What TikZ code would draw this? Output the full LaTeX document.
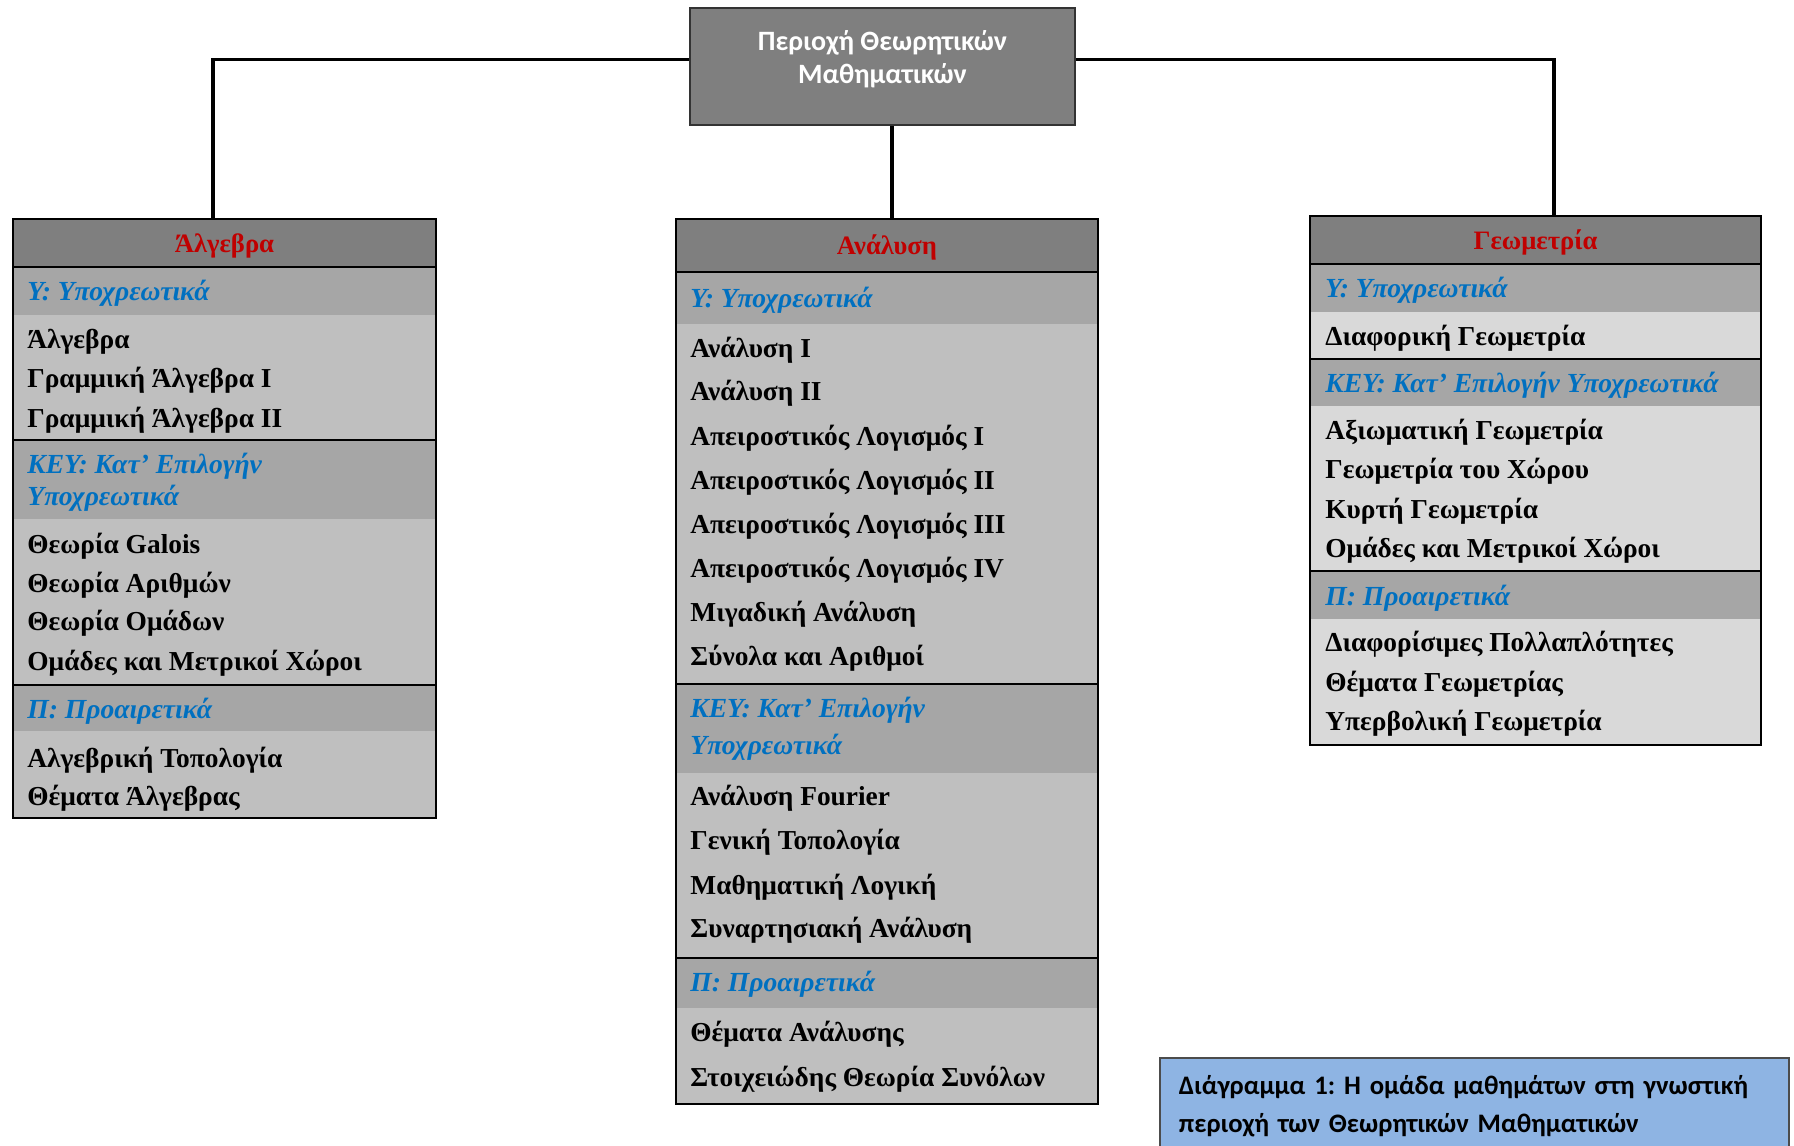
\documentclass[tikz,border=0pt]{standalone}
\usepackage{fontspec}
\setmainfont{Liberation Serif}
\newfontfamily\calibri{Carlito}
\usetikzlibrary{positioning, calc}
\frenchspacing

\definecolor{hdrgray}{HTML}{7F7F7F}
\definecolor{secgray}{HTML}{A6A6A6}
\definecolor{itemgray}{HTML}{BFBFBF}
\definecolor{itemlight}{HTML}{D9D9D9}
\definecolor{titlered}{HTML}{C00000}
\definecolor{secblue}{HTML}{0070C0}
\definecolor{capblue}{HTML}{8EB4E3}

\tikzstyle{topbox} = [draw=black!80, line width=0.8pt, fill=hdrgray, text=white, align=center, font=\calibri\bfseries\fontsize{14}{16.5}\selectfont, text depth=9pt, minimum width=192.5pt, minimum height=58.5pt]
\tikzstyle{colhead} = [draw, line width=0.8pt, fill=hdrgray, text=titlered, text height=12pt, text depth=3pt, font=\bfseries\fontsize{13.3}{15}\selectfont]
\tikzstyle{item} = [anchor=base west, inner sep=0pt, font=\bfseries\fontsize{13.7}{15}\selectfont]
\tikzstyle{sect} = [item, text=secblue, font=\bfseries\itshape\fontsize{13.8}{15}\selectfont]
\tikzstyle{link} = [line width=1.7pt]
\tikzstyle{rule} = [line width=0.8pt]
\tikzstyle{capbox} = [draw=black!70, line width=0.8pt, fill=capblue, align=left, font=\calibri\bfseries\fontsize{13.35}{19}\selectfont, text width=295.5pt, inner xsep=9.5pt, minimum height=48pt]

\begin{document}
\begin{tikzpicture}[x=0.5pt, y=-0.5pt]
        \useasboundingbox (0,0) rectangle (1794,1146);

        % Top box
        \node[topbox] (area) at (882.5,66.5) {Περιοχή Θεωρητικών\\Μαθηματικών};

        % Algebra column
        \foreach \ya/\yb/\clr in {267/315/secgray, 315/440/itemgray, 440/519/secgray,
                                  519/685/itemgray, 685/731/secgray, 731/818/itemgray}
        \fill[\clr] (13,\ya) rectangle (436,\yb);
        \foreach \y in {440,685}
        \draw[rule] (13,\y) -- (436,\y);
        \draw[rule] (13,219) rectangle (436,818);
        \node[colhead, minimum width=211.5pt, minimum height=24pt] (alg) at (224.5,243) {Άλγεβρα};
        \foreach \y/\txt in {300/Υ: Υποχρεωτικά, 473/ΚΕΥ: Κατ’ Επιλογήν, 505/Υποχρεωτικά, 718/Π: Προαιρετικά}
        \node[sect] (alg-s\y) at (27,\y) {\txt};
        \foreach \y/\txt in {
          348/Άλγεβρα,
          387/Γραμμική Άλγεβρα I,
          427/Γραμμική Άλγεβρα II,
          553/Θεωρία Galois,
          592/Θεωρία Αριθμών,
          630/Θεωρία Ομάδων,
          670/Ομάδες και Μετρικοί Χώροι,
          767/Αλγεβρική Τοπολογία,
          805/Θέματα Άλγεβρας
        }
        \node[item] (alg-\y) at (27,\y) {\txt};

        % Analysis column
        \foreach \ya/\yb/\clr in {272/324/secgray, 324/684/itemgray, 684/773/secgray,
                                  773/958/itemgray, 958/1008/secgray, 1008/1104/itemgray}
        \fill[\clr] (676,\ya) rectangle (1098,\yb);
        \foreach \y in {684,958}
        \draw[rule] (676,\y) -- (1098,\y);
        \draw[rule] (676,219) rectangle (1098,1104);
        \node[colhead, minimum width=211pt, minimum height=26.5pt] (ana) at (887,245.5) {Ανάλυση};
        \foreach \y/\txt in {307/Υ: Υποχρεωτικά, 717/ΚΕΥ: Κατ’ Επιλογήν, 754/Υποχρεωτικά, 991/Π: Προαιρετικά}
        \node[sect] (ana-s\y) at (690,\y) {\txt};
        \foreach \y/\txt in {
          357/Ανάλυση I,
          400/Ανάλυση II,
          445/Απειροστικός Λογισμός I,
          489/Απειροστικός Λογισμός II,
          533/Απειροστικός Λογισμός III,
          577/Απειροστικός Λογισμός IV,
          621/Μιγαδική Ανάλυση,
          665/Σύνολα και Αριθμοί,
          805/Ανάλυση Fourier,
          849/Γενική Τοπολογία,
          894/Μαθηματική Λογική,
          937/Συναρτησιακή Ανάλυση,
          1041/Θέματα Ανάλυσης,
          1086/Στοιχειώδης Θεωρία Συνόλων
        }
        \node[item] (ana-\y) at (690,\y) {\txt};

        % Geometry column
        \foreach \ya/\yb/\clr in {264/312/secgray, 312/359/itemlight, 359/406/secgray,
                                  406/571/itemlight, 571/619/secgray, 619/745/itemlight}
        \fill[\clr] (1310,\ya) rectangle (1761,\yb);
        \foreach \y in {359,571}
        \draw[rule] (1310,\y) -- (1761,\y);
        \draw[rule] (1310,216) rectangle (1761,745);
        \node[colhead, minimum width=225.5pt, minimum height=24pt] (geo) at (1535.5,240) {Γεωμετρία};
        \foreach \y/\txt in {297/Υ: Υποχρεωτικά, 392/ΚΕΥ: Κατ’ Επιλογήν Υποχρεωτικά, 605/Π: Προαιρετικά}
        \node[sect] (geo-s\y) at (1325,\y) {\txt};
        \foreach \y/\txt in {
          345/Διαφορική Γεωμετρία,
          439/Αξιωματική Γεωμετρία,
          478/Γεωμετρία του Χώρου,
          518/Κυρτή Γεωμετρία,
          557/Ομάδες και Μετρικοί Χώροι,
          651/Διαφορίσιμες Πολλαπλότητες,
          691/Θέματα Γεωμετρίας,
          730/Υπερβολική Γεωμετρία
        }
        \node[item] (geo-\y) at (1325,\y) {\txt};

        % Connectors
        \draw[link] ([yshift=3.5pt]area.west) -| ([xshift=-5.75pt]alg.north);
        \draw[link] ([yshift=3.5pt]area.east) -| ([xshift=9.25pt]geo.north);
        \draw[link] ([xshift=4.75pt]area.south) -- ([xshift=2.5pt]ana.north);

        % Caption
        \node[capbox, anchor=north west] (cap) at (1159,1057) {Διάγραμμα 1: Η ομάδα μαθημάτων στη γνωστική\\περιοχή των Θεωρητικών Μαθηματικών};
      \end{tikzpicture}
\end{document}
